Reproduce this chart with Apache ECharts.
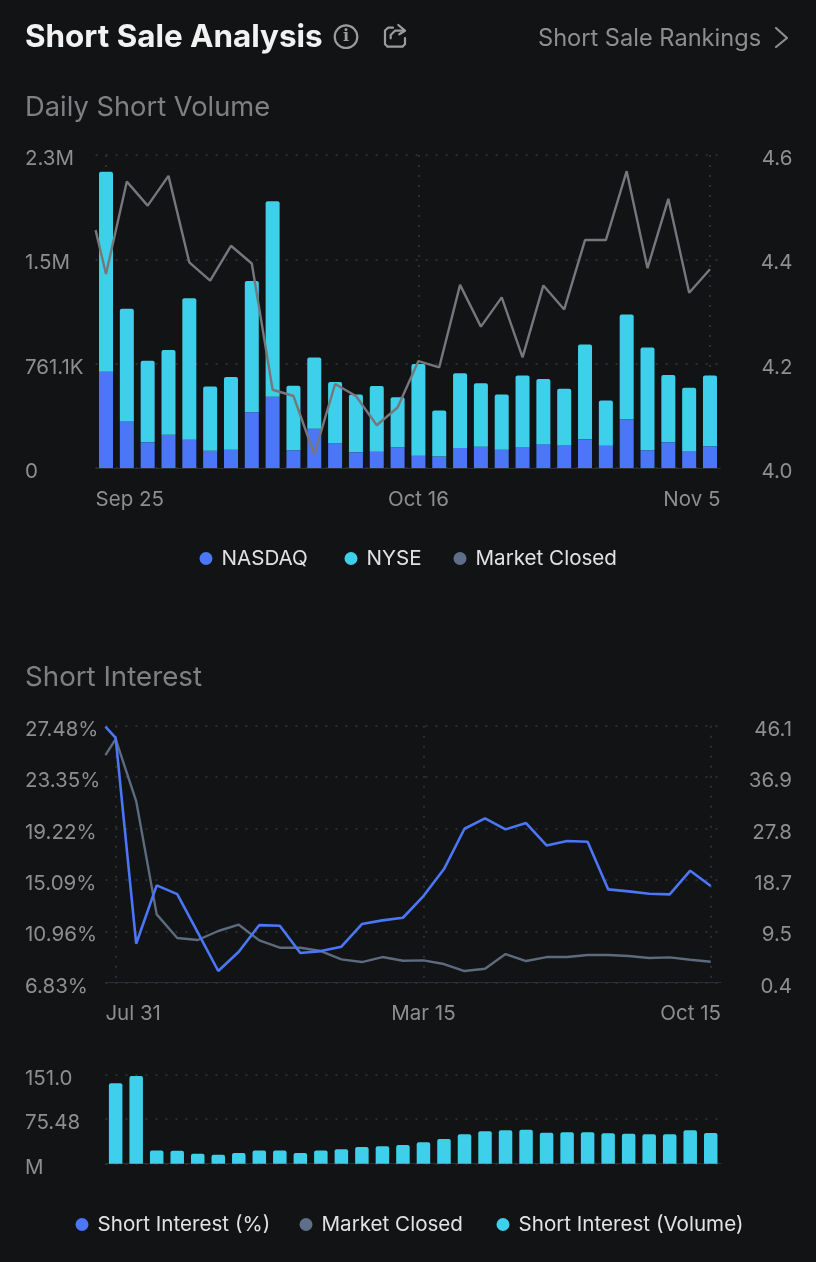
<!DOCTYPE html>
<html><head><meta charset="utf-8">
<style>html,body{margin:0;padding:0;background:#111315}#c{width:816px;height:1262px}</style>
<script src="https://cdn.jsdelivr.net/npm/echarts@6/dist/echarts.min.js"></script>
</head><body><div id="c"></div>
<script>
const FONT = 'Inter';
// Daily short volume (thousands)
const sessions = ['1','2','3','4','5','6','7','8','9','10','11','12','13','14','15','16','17','18','19','20','21','22','23','24','25','26','27','28','29','30'];
const nasdaq = [702,340,187,243,206,126,134,406,520,129,287,182,114,119,151,90,83,146,155,134,153,172,168,209,163,355,129,187,121,158];
const nyse = [1460,821,595,617,1033,469,529,959,1426,471,519,445,423,479,366,668,337,546,464,403,522,477,410,692,330,765,750,491,464,517];
// first entry lies half a step before the first bar and is cut by the plot edge
const closed1 = [4.456,4.372,4.549,4.503,4.560,4.394,4.359,4.426,4.392,4.150,4.138,4.026,4.161,4.138,4.082,4.116,4.205,4.193,4.351,4.271,4.327,4.212,4.350,4.304,4.437,4.437,4.569,4.383,4.516,4.336,4.381];
const xLabels1 = ['Sep 25','Oct 16','Nov 5'];
const yLeft1 = ['0','761.1K','1.5M','2.3M'];
const yRight1 = ['4.0','4.2','4.4','4.6'];
// Short interest
const siPct = [27.40,26.51,9.96,14.65,13.95,10.87,7.77,9.32,11.46,11.41,9.21,9.37,9.72,11.54,11.84,12.05,13.79,15.96,19.20,20.03,19.15,19.66,17.86,18.21,18.16,14.33,14.17,13.98,13.93,15.83,14.60];
const closed2 = [40.88,43.73,32.70,12.55,8.34,7.99,9.59,10.71,7.93,6.62,6.62,6.03,4.55,4.07,4.96,4.31,4.37,3.72,2.47,2.89,5.50,4.25,4.96,4.96,5.32,5.32,5.14,4.79,4.90,4.49,4.13];
const siVol = [136.3,148.7,22.6,22.1,17.0,15.3,18.1,22.6,22.6,18.1,22.6,24.3,28.3,29.4,31.7,36.2,41.8,49.8,54.9,56.6,57.7,52.6,53.2,53.2,51.5,50.9,49.8,49.8,56.6,52.0];
const xLabels2 = ['Jul 31','Mar 15','Oct 15'];
const yLeft2 = ['6.83%','10.96%','15.09%','19.22%','23.35%','27.48%'];
const yRight2 = ['0.4','9.5','18.7','27.8','36.9','46.1'];
const yLeft3 = ['M','75.48','151.0'];

const BG='#111315', BLUE='#4a76f7', CYAN='#3ecfea', SLATE='#5f6f8a', GREY1='#77777b', GREY2='#5d6b7e', GRID='#2c2f33', TICK='#8e8e90', ICON='#9c9c9e';
const lines = a => a.map((v,i)=>[i===0?-0.5:i-1,v]);
const dotted = {show:true,lineStyle:{color:GRID,type:[2,8],width:2}};
function xAxis(grid,labels){
  return {type:'value',gridIndex:grid,min:-0.5,max:29.5,interval:1,
    axisLine:{show:true,onZero:false,lineStyle:{color:'#2b2e32',width:1}},
    axisTick:{show:false,customValues:[0,15,29]},
    splitLine:dotted,
    axisLabel:{show:true,customValues:[-0.5,15,29.5],alignMinLabel:'left',alignMaxLabel:'right',
      color:TICK,fontFamily:FONT,fontSize:20.5,margin:21,
      formatter:(v)=>labels[v<0?0:(v>20?2:1)]}};
}
function yAxis(grid,min,max,interval,labels,pos,margin){
  return {type:'value',gridIndex:grid,min,max,interval,position:pos,
    axisLine:{show:false},axisTick:{show:false},
    splitLine:pos==='left'?dotted:{show:false},
    axisLabel:{color:TICK,fontFamily:FONT,fontSize:20.5,margin,align:pos==='left'?'left':'right',verticalAlign:'top',lineHeight:8,
      formatter:(v)=>labels[Math.round((v-min)/interval)]}};
}
const catAxis=(grid,show)=>({type:'category',gridIndex:grid,data:sessions,show,
  axisLine:{show:true,lineStyle:{color:'#2b2e32',width:1}},axisTick:{show:false},axisLabel:{show:false},splitLine:{show:false}});
const legendItem=(name,dot,top,extra)=>({icon:'circle',padding:0,itemWidth:21,itemHeight:13,left:dot-6.5,top,
  textStyle:{color:'#e2e2e2',fontFamily:FONT,fontSize:20.6},inactiveColor:'#555',data:[Object.assign({name},extra||{})]});
const txt=(x,y,text,size,color,weight)=>({type:'text',x,y,style:{text,fontFamily:FONT,fontSize:size,fontWeight:weight||400,fill:color,verticalAlign:'middle'}});
const icon=(points,color)=>({type:'polyline',shape:{points},style:{fill:'none',stroke:color||ICON,lineWidth:2.2,lineJoin:'round',lineCap:'round'}});

const option={
  backgroundColor:BG,animation:false,
  grid:[
    {left:95.6,right:95.6,top:155,height:313},
    {left:105.4,right:95,top:725.7,height:257},
    {left:105.4,right:95,top:1074.7,height:89}
  ],
  xAxis:[xAxis(0,xLabels1),xAxis(1,xLabels2),catAxis(2,true),catAxis(0,false)],
  yAxis:[
    yAxis(0,0,2283.3,761.1,yLeft1,'left',70.6),
    yAxis(0,4,4.6,0.2,yRight1,'right',72),
    yAxis(1,6.83,27.48,4.13,yLeft2,'left',80.4),
    yAxis(1,0.4,46.1,9.14,yRight2,'right',71),
    yAxis(2,0,150.96,75.48,yLeft3,'left',80.4)
  ],
  legend:[
    legendItem('NASDAQ',206,548),
    legendItem('NYSE',351,548),
    legendItem('Market Closed',460,548,{itemStyle:{color:SLATE}}),
    legendItem('Short Interest (%)',82,1214),
    legendItem('Market Closed',306,1214,{itemStyle:{color:SLATE}}),
    legendItem('Short Interest (Volume)',503,1214)
  ],
  series:[
    {name:'NASDAQ',type:'bar',stack:'a',xAxisIndex:3,yAxisIndex:0,barWidth:14,itemStyle:{color:BLUE},data:nasdaq},
    {name:'NYSE',type:'bar',stack:'a',xAxisIndex:3,yAxisIndex:0,barWidth:14,itemStyle:{color:CYAN,borderRadius:[2,2,0,0]},data:nyse},
    {name:'Market Closed',type:'line',xAxisIndex:0,yAxisIndex:1,showSymbol:false,z:5,lineStyle:{color:GREY1,width:2.4},itemStyle:{color:SLATE},data:lines(closed1)},
    {name:'Market Closed',type:'line',xAxisIndex:1,yAxisIndex:3,showSymbol:false,z:5,lineStyle:{color:GREY2,width:2.4},itemStyle:{color:SLATE},data:lines(closed2)},
    {name:'Short Interest (%)',type:'line',xAxisIndex:1,yAxisIndex:2,showSymbol:false,z:6,lineStyle:{color:BLUE,width:2.6},itemStyle:{color:BLUE},data:lines(siPct)},
    {name:'Short Interest (Volume)',type:'bar',xAxisIndex:2,yAxisIndex:4,barWidth:13.5,itemStyle:{color:CYAN,borderRadius:[2,2,0,0]},data:siVol}
  ],
  graphic:[
    txt(25,38,'Short Sale Analysis',31.4,'#f2f2f2',700),
    txt(538,38.5,'Short Sale Rankings',23.6,'#8e8e90'),
    txt(25,107.5,'Daily Short Volume',27.3,'#808083'),
    txt(25,677.5,'Short Interest',27.7,'#808083'),
    {type:'circle',shape:{cx:346,cy:36.7,r:11.3},style:{fill:'none',stroke:ICON,lineWidth:2.2}},
    {type:'text',x:346,y:37,style:{text:'i',fontFamily:'DejaVu Serif',fontSize:16,fontWeight:700,fill:ICON,align:'center',verticalAlign:'middle'}},
    icon([[393,27.7],[388,27.7],[385,30.5],[385,44],[387.5,46.7],[402.5,46.7],[405,44],[405,38]]),
    icon([[390.7,38.3],[390.7,35],[395,30.7],[404,30.7]]),
    icon([[398.3,25],[405,30.7],[399.3,34.3]]),
    icon([[776,28],[787,38],[776,47]],'#8e8e90')
  ]
};
echarts.init(document.getElementById('c')).setOption(option);
</script></body></html>
